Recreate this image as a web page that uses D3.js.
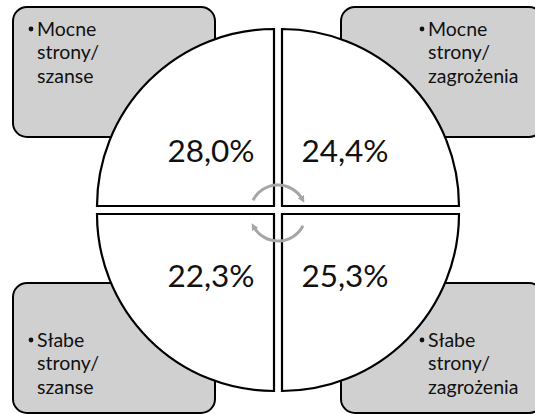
<!DOCTYPE html>
<html>
<head>
<meta charset="utf-8">
<script src="https://cdn.jsdelivr.net/npm/d3@7"></script>
<style>
  html, body { margin: 0; padding: 0; background: #fff; }
  svg { display: block; font-family: Lato, "Open Sans", sans-serif; }
</style>
</head>
<body>
<div class="swot_area"></div>
<script>
// quadrants: top-left, top-right, bottom-left, bottom-right
var quadrants = ["ms_sz", "ms_zg", "ss_sz", "ss_zg"];
var boxLines = [
  ["Mocne", "strony/", "szanse"],
  ["Mocne", "strony/", "zagrożenia"],
  ["Słabe", "strony/", "szanse"],
  ["Słabe", "strony/", "zagrożenia"]
];
var shares = [28.0, 24.4, 22.3, 25.3];

var width = 535, height = 414;
var cx = 278, cy = 210, gap = 4, R = 177;

var svg = d3.select(".swot_area")
  .append("svg")
  .attr("width", width)
  .attr("height", height);

var pl = d3.formatLocale({decimal: ",", thousands: " ", grouping: [3], currency: ["", " zł"]});
var fmt = pl.format(".1f");

// sign of each quadrant along x and y
var sx = d3.scaleOrdinal().domain(quadrants).range([-1, 1, -1, 1]);
var sy = d3.scaleOrdinal().domain(quadrants).range([-1, -1, 1, 1]);
// quarter angles for d3.arc (0 = up, clockwise)
var a0 = d3.scaleOrdinal().domain(quadrants).range([1.5 * Math.PI, 0, Math.PI, 0.5 * Math.PI]);

var data = quadrants.map(function(q, i) {
  return {key: q, lines: boxLines[i], value: shares[i]};
});

// grey boxes in the corners
var boxW = 202, boxH = 130, boxIn = 63, boxOut = 203;
svg.selectAll("rect.box")
  .data(data)
  .enter()
  .append("rect")
    .attr("class", "box")
    .attr("x", function(d) { return sx(d.key) < 0 ? cx - boxIn - boxW : cx + boxIn; })
    .attr("y", function(d) { return sy(d.key) < 0 ? cy - boxOut : cy + boxOut - boxH; })
    .attr("width", boxW)
    .attr("height", boxH)
    .attr("rx", 14)
    .style("fill", "#d0d0d0")
    .style("stroke", "#000")
    .style("stroke-width", 2);

// box texts
var tg = svg.selectAll("g.label")
  .data(data)
  .enter()
  .append("g")
    .attr("class", "label")
    .attr("transform", function(d) {
      var x = sx(d.key) < 0 ? 37 : 428;
      var y = sy(d.key) < 0 ? 36 : 347;
      return "translate(" + x + "," + y + ")";
    });

tg.append("circle")
    .attr("cx", -6)
    .attr("cy", -7)
    .attr("r", 2.4)
    .style("fill", "#111");

tg.selectAll("text.ln")
  .data(function(d) { return d.lines; })
  .enter()
  .append("text")
    .attr("class", "ln")
    .attr("y", function(d, i) { return i * 23.3; })
    .style("font-size", "19.5px")
    .style("fill", "#111")
    .text(function(d) { return d; });

// four quarters of the circle
var arc = d3.arc()
  .innerRadius(0)
  .outerRadius(R)
  .startAngle(function(d) { return a0(d.key); })
  .endAngle(function(d) { return a0(d.key) + Math.PI / 2; });

svg.selectAll("path.quarter")
  .data(data)
  .enter()
  .append("path")
    .attr("class", "quarter")
    .attr("transform", function(d) {
      return "translate(" + (cx + sx(d.key) * gap) + "," + (cy + sy(d.key) * gap) + ")";
    })
    .attr("d", arc)
    .style("fill", "#fff")
    .style("stroke", "#000")
    .style("stroke-width", 2.2);

// percentages
svg.selectAll("text.pct")
  .data(data)
  .enter()
  .append("text")
    .attr("class", "pct")
    .attr("x", function(d) { return cx + sx(d.key) * 67; })
    .attr("y", function(d) { return sy(d.key) < 0 ? cy - 48 : cy + 77; })
    .attr("text-anchor", "middle")
    .style("font-size", "31.5px")
    .style("fill", "#111")
    .text(function(d) { return fmt(d.value) + "%"; });

// circular arrows in the middle
svg.append("defs").append("marker")
    .attr("id", "head")
    .attr("viewBox", "0 0 10 10")
    .attr("refX", 4)
    .attr("refY", 5)
    .attr("markerWidth", 7)
    .attr("markerHeight", 7)
    .attr("markerUnits", "userSpaceOnUse")
    .attr("orient", "auto")
  .append("path")
    .attr("d", "M0,0 L10,5 L0,10 z")
    .style("fill", "#a6a6a6");

var rr = 28, acy = 213;
var deg = Math.PI / 180;
[[-153, -30], [27, 150]].forEach(function(a) {
  var p = d3.path();
  p.arc(cx, acy, rr, a[0] * deg, a[1] * deg, false);
  svg.append("path")
    .attr("d", p.toString())
    .attr("marker-end", "url(#head)")
    .style("fill", "none")
    .style("stroke", "#a6a6a6")
    .style("stroke-width", 3);
});
</script>
</body>
</html>
